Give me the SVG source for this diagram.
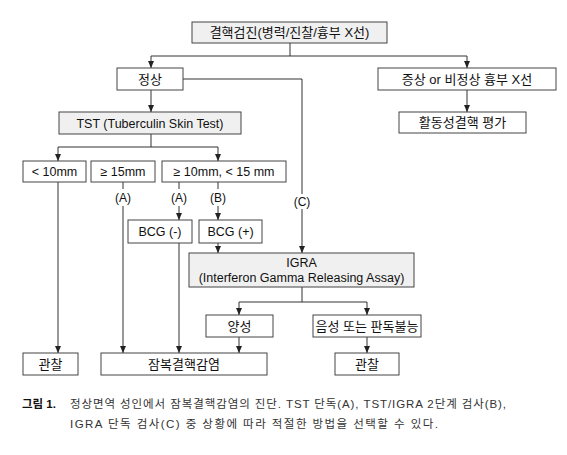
<svg xmlns="http://www.w3.org/2000/svg" width="567" height="455" viewBox="0 0 567 455">
<style>
.box{fill:#ffffff;stroke:#444;stroke-width:1}
.gray{fill:#f0f0f0}
.t{font-family:"Liberation Sans","Noto Sans CJK KR",sans-serif;font-size:12.5px;fill:#111;text-anchor:middle}
.k{font-size:13px}
.lbl{font-family:"Liberation Sans","Noto Sans CJK KR",sans-serif;font-size:12px;fill:#111;text-anchor:middle}
.ln{fill:none;stroke:#333;stroke-width:1}
.cap{font-family:"Liberation Sans","Noto Sans CJK KR",sans-serif;font-size:11.5px;fill:#333}
</style>
<defs>
<marker id="ah" markerUnits="userSpaceOnUse" markerWidth="7" markerHeight="6" refX="7" refY="3" orient="auto">
<path d="M0,0 L7,3 L0,6 z" fill="#222"/>
</marker>
</defs>
<rect width="567" height="455" fill="#fff"/>
<g id="connectors">
<path class="ln" d="M290,43 V56 M151,56 H467"/>
<path class="ln" d="M151,56 V68" marker-end="url(#ah)"/>
<path class="ln" d="M467,56 V68" marker-end="url(#ah)"/>
<path class="ln" d="M467,90 V112" marker-end="url(#ah)"/>
<path class="ln" d="M151,90 V112" marker-end="url(#ah)"/>
<path class="ln" d="M183,79 H302 V194"/>
<path class="ln" d="M302,209 V253" marker-end="url(#ah)"/>
<text class="lbl" x="302" y="206">(C)</text>
<path class="ln" d="M151,134 V147 M58,147 H218"/>
<path class="ln" d="M58,147 V161" marker-end="url(#ah)"/>
<path class="ln" d="M218,147 V161" marker-end="url(#ah)"/>
<path class="ln" d="M58,182 V353" marker-end="url(#ah)"/>
<path class="ln" d="M123,182 V189"/>
<text class="lbl" x="123" y="202">(A)</text>
<path class="ln" d="M123,206 V353" marker-end="url(#ah)"/>
<path class="ln" d="M179,182 V189"/>
<text class="lbl" x="179" y="202">(A)</text>
<path class="ln" d="M179,206 V220" marker-end="url(#ah)"/>
<path class="ln" d="M218,182 V189"/>
<text class="lbl" x="218" y="202">(B)</text>
<path class="ln" d="M218,206 V220" marker-end="url(#ah)"/>
<path class="ln" d="M179,243 V353" marker-end="url(#ah)"/>
<path class="ln" d="M218,243 V253" marker-end="url(#ah)"/>
<path class="ln" d="M302,287 V302 M239,302 H367"/>
<path class="ln" d="M239,302 V315" marker-end="url(#ah)"/>
<path class="ln" d="M367,302 V315" marker-end="url(#ah)"/>
<path class="ln" d="M239,337 V353" marker-end="url(#ah)"/>
<path class="ln" d="M367,337 V353" marker-end="url(#ah)"/>
</g>
<g id="n-top"><rect class="box gray" x="192" y="22" width="195" height="21"/><text class="t k" x="289.5" y="37">결핵검진(병력/진찰/흉부 X선)</text></g>
<g id="n-normal"><rect class="box" x="117" y="68" width="66" height="22"/><text class="t k" x="150" y="83.5">정상</text></g>
<g id="n-abnormal"><rect class="box" x="378" y="68" width="178" height="22"/><text class="t k" x="467" y="83.5">증상 or 비정상 흉부 X선</text></g>
<g id="n-active"><rect class="box" x="399" y="112" width="127" height="21"/><text class="t k" x="462.5" y="127">활동성결핵 평가</text></g>
<g id="n-tst"><rect class="box gray" x="59" y="112" width="182" height="22"/><text class="t" x="150" y="127.5">TST (Tuberculin Skin Test)</text></g>
<g id="n-lt10"><rect class="box" x="23" y="161" width="63" height="21"/><text class="t" x="54.5" y="176">&lt; 10mm</text></g>
<g id="n-ge15"><rect class="box" x="91" y="161" width="64" height="21"/><text class="t" x="123" y="176">≥ 15mm</text></g>
<g id="n-mid"><rect class="box" x="162" y="161" width="124" height="21"/><text class="t" x="224" y="176">≥ 10mm, &lt; 15 mm</text></g>
<g id="n-bcgneg"><rect class="box" x="128" y="220" width="64" height="23"/><text class="t" x="160" y="236">BCG (-)</text></g>
<g id="n-bcgpos"><rect class="box" x="199" y="220" width="63" height="23"/><text class="t" x="230.5" y="236">BCG (+)</text></g>
<g id="n-igra"><rect class="box gray" x="189" y="253" width="225" height="34"/><text class="t" x="301.5" y="266.5">IGRA</text><text class="t" x="301.5" y="282">(Interferon Gamma Releasing Assay)</text></g>
<g id="n-pos"><rect class="box" x="206" y="315" width="67" height="22"/><text class="t k" x="239.5" y="330.5">양성</text></g>
<g id="n-neg"><rect class="box" x="313" y="315" width="108" height="22"/><text class="t k" x="367" y="330.5">음성 또는 판독불능</text></g>
<g id="n-obs1"><rect class="box" x="23" y="353" width="55" height="22"/><text class="t k" x="50.5" y="368.5">관찰</text></g>
<g id="n-ltbi"><rect class="box" x="101" y="353" width="166" height="22"/><text class="t k" x="184" y="368.5">잠복결핵감염</text></g>
<g id="n-obs2"><rect class="box" x="335" y="353" width="64" height="22"/><text class="t k" x="367" y="368.5">관찰</text></g>
<g id="caption">
<text class="cap" x="22" y="408" style="font-weight:bold;fill:#111">그림 1.</text>
<text class="cap" x="70" y="408" textLength="436" lengthAdjust="spacing">정상면역 성인에서 잠복결핵감염의 진단. TST 단독(A), TST/IGRA 2단계 검사(B),</text>
<text class="cap" x="70" y="428" textLength="368" lengthAdjust="spacing">IGRA 단독 검사(C) 중 상황에 따라 적절한 방법을 선택할 수 있다.</text>
</g>
</svg>
